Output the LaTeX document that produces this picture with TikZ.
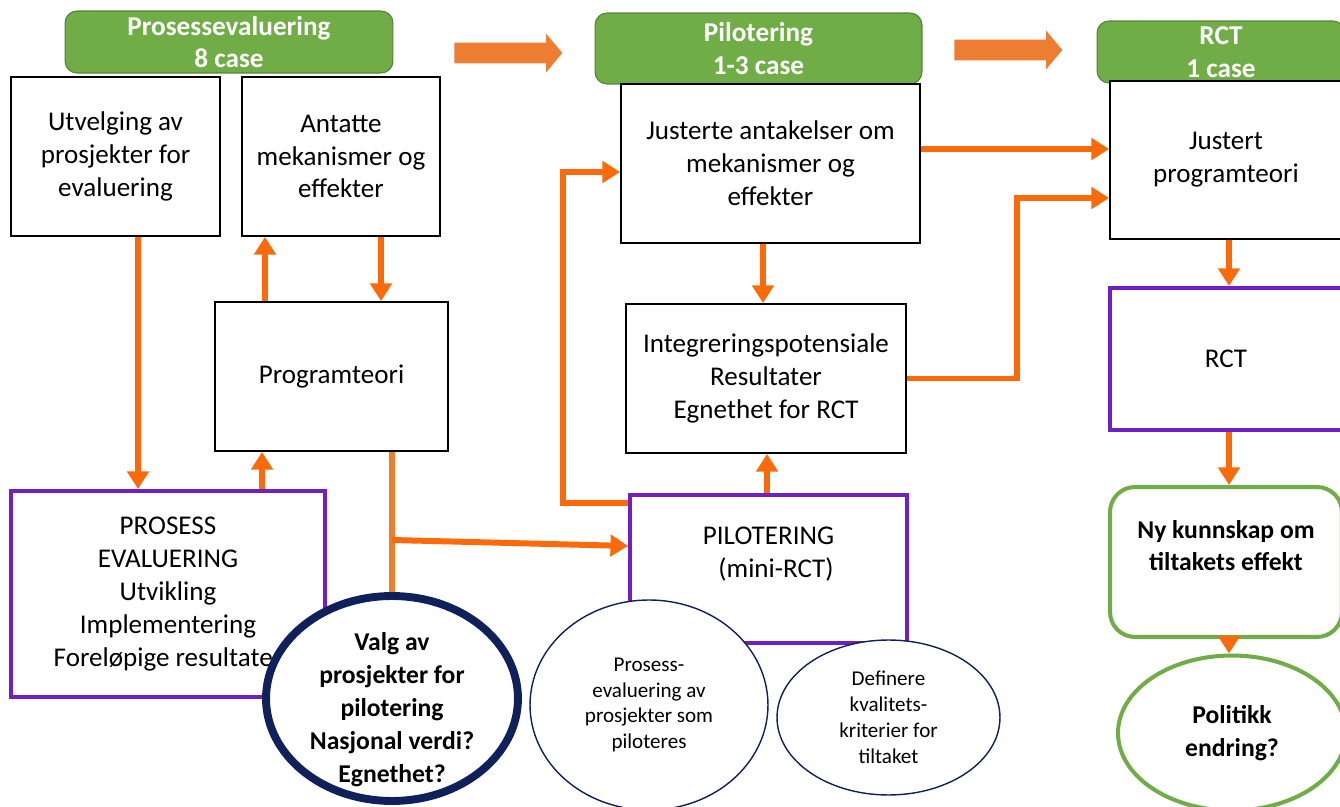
\documentclass[tikz,border=0pt]{standalone}
\usepackage{fontspec}
\setmainfont{Carlito}
\usetikzlibrary{shapes.geometric,shapes.arrows,arrows.meta}
\definecolor{hgreen}{RGB}{112,173,71}
\definecolor{hgreenline}{RGB}{84,130,53}
\definecolor{arrorange}{RGB}{250,106,10}
\definecolor{lightorange}{RGB}{237,125,49}
\definecolor{boxpurple}{RGB}{112,32,192}
\definecolor{navy}{RGB}{16,32,90}
\tikzset{
  header/.style={draw=hgreenline, fill=hgreen, rounded corners=0.24cm, text=white,
    font=\fontsize{15.5}{18.7}\selectfont\bfseries, align=center, inner sep=0pt, line width=0.6pt},
  plainbox/.style={draw=black, fill=white, line width=1.1pt, align=center,
    font=\fontsize{15.4}{18.7}\selectfont, inner sep=2pt},
  purplebox/.style={plainbox, draw=boxpurple, line width=2.3pt},
  boldtext/.style={font=\fontsize{14.6}{18.7}\selectfont\bfseries},
  bigarrow/.style={single arrow, fill=lightorange, draw=none, single arrow head extend=0.18cm,
    single arrow tip angle=100, inner xsep=0pt, inner ysep=0.2cm, minimum height=2.16cm},
  arr/.style={draw=arrorange, line width=3.4pt, -{Triangle[width=12pt,length=10pt]}},
  smallbubble/.style={ellipse, draw=navy, fill=white, line width=0.8pt, align=center,
    font=\fontsize{12}{14.7}\selectfont, inner sep=0pt},
}
\begin{document}
\begin{tikzpicture}[x=0.02cm, y=-0.02cm]
        \useasboundingbox (0,0) rectangle (1340,807);
        % phase headers
        \node[header, minimum width=6.56cm, minimum height=1.24cm] (hpro) at (229,42) {Prosessevaluering\\8 case};
        \node[header, minimum width=6.54cm, minimum height=1.42cm] (hpil) at (758.5,48.5) {Pilotering\\1-3 case};
        \node[header, minimum width=4.96cm, minimum height=1.24cm] (hrct) at (1221,52) {RCT\\1 case};
        \node[bigarrow] (fatA) at (504,53) {};
        \node[bigarrow] (fatB) at (1004,50) {};
        % process evaluation
        \node[plainbox, minimum width=4.18cm, minimum height=3.18cm] (utv) at (115.5,156.5) {Utvelging av\\prosjekter for\\evaluering};
        \node[plainbox, minimum width=3.96cm, minimum height=3.18cm] (ant) at (341,156.5) {Antatte\\mekanismer og\\effekter};
        \node[plainbox, minimum width=4.66cm, minimum height=2.98cm] (prog) at (331.5,376.5) {Programteori};
        \node[purplebox, minimum width=6.28cm, minimum height=4.12cm] (pe) at (168,594) {PROSESS\\EVALUERING\\Utvikling\\Implementering\\Foreløpige resultater};
        % piloting
        \node[plainbox, minimum width=5.98cm, minimum height=3.18cm] (jus) at (770.5,163.5) {Justerte antakelser om\\mekanismer og\\effekter};
        \node[plainbox, minimum width=5.6cm, minimum height=2.98cm] (int) at (766,378.5) {Integreringspotensiale\\Resultater\\Egnethet for RCT};
        \node[purplebox, minimum width=5.54cm, minimum height=2.96cm] (pil) at (768.5,569) {PILOTERING\\\hspace*{0.3cm}(mini-RCT)\\~};
        \node[smallbubble, minimum width=4.76cm, minimum height=4.2cm] (proe) at (649,705) {Prosess-\\evaluering av\\prosjekter som\\piloteres};
        \node[smallbubble, minimum width=4.46cm, minimum height=3.1cm] (def) at (888.5,717.5) {Definere\\kvalitets-\\kriterier for\\tiltaket};
        \node[ellipse, draw=navy, fill=white, line width=4.5pt, minimum width=5.04cm, minimum height=4.1cm,
          label={[boldtext, align=center, yshift=-0.22cm]center:{Valg av\\prosjekter for\\pilotering\\Nasjonal verdi?\\Egnethet?}}] (valg) at (392,698.5) {};
        % RCT
        \node[plainbox, minimum width=4.64cm, minimum height=3.16cm] (jpt) at (1226,160) {Justert\\programteori};
        \node[purplebox, minimum width=4.64cm, minimum height=2.84cm] (rct) at (1226,359) {RCT};
        \node[plainbox, boldtext, draw=hgreen, line width=2.3pt, rounded corners=0.5cm, minimum width=4.64cm, minimum height=3.0cm] (ny) at (1226,562) {Ny kunnskap om\\tiltakets effekt\\~};
        \node[ellipse, boldtext, draw=hgreen, fill=white, line width=2.3pt, align=center, minimum width=4.56cm, minimum height=3.1cm] (pol) at (1232,733) {Politikk\\endring?};
        % connectors
        \draw[arr] (utv.south -| 138,0) -- (pe.north -| 138,0);
        \draw[arr] (pe.north -| 262,0) -- (prog.south -| 262,0);
        \draw[arr] (prog.north -| 265,0) -- (ant.south -| 265,0);
        \draw[arr] (ant.south -| 381,0) -- (prog.north -| 381,0);
        \draw[draw=lightorange, line width=3.2pt] (prog.south -| 392,0) -- (valg.north);
        \coordinate (br) at (392,540);
        \draw[arr] (br) -- (pil.west |- 0,546);
        \draw[arr] (pil.west |- 0,503) -| (563,172) -- (jus.west |- 0,172);
        \draw[arr] (pil.north -| 767,0) -- (int.south -| 767,0);
        \draw[arr] (jus.south -| 763,0) -- (int.north -| 763,0);
        \draw[arr] (jus.east |- 0,149) -- (jpt.west |- 0,149);
        \draw[arr] (int.east) -| (1017,198) -- (jpt.west |- 0,198);
        \draw[arr] (jpt.south -| 1229,0) -- (rct.north -| 1229,0);
        \draw[arr] (rct.south -| 1229,0) -- (ny.north -| 1229,0);
        \draw[arr] (ny.south -| 1229,0) -- (pol.north -| 1229,0);
\end{tikzpicture}
\end{document}
